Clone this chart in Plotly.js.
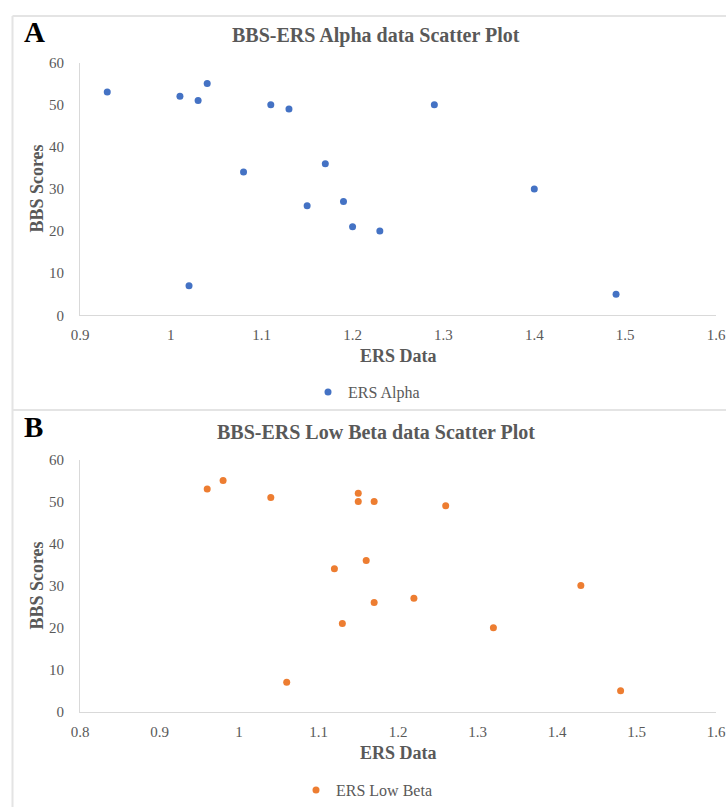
<!DOCTYPE html>
<html>
<head>
<meta charset="utf-8">
<script src="https://cdn.plot.ly/plotly-3.0.1.min.js"></script>
<style>
html, body { margin: 0; padding: 0; background: #ffffff; overflow: hidden; }
#chart { width: 726px; height: 807px; }
</style>
</head>
<body>
<div id="chart"></div>
<script>
// ---- data ----
const alphaX = [0.93, 1.01, 1.02, 1.03, 1.04, 1.08, 1.11, 1.13, 1.15, 1.17, 1.19, 1.20, 1.23, 1.29, 1.40, 1.49];
const alphaY = [53, 52, 7, 51, 55, 34, 50, 49, 26, 36, 27, 21, 20, 50, 30, 5];
const betaX = [0.96, 0.98, 1.04, 1.06, 1.12, 1.13, 1.15, 1.15, 1.16, 1.17, 1.17, 1.22, 1.26, 1.32, 1.43, 1.48];
const betaY = [53, 55, 51, 7, 34, 21, 52, 50, 36, 50, 26, 27, 49, 20, 30, 5];
const xTicksA = [0.9, 1.0, 1.1, 1.2, 1.3, 1.4, 1.5, 1.6];
const xTickTextA = ['0.9', '1', '1.1', '1.2', '1.3', '1.4', '1.5', '1.6'];
const xTicksB = [0.8, 0.9, 1.0, 1.1, 1.2, 1.3, 1.4, 1.5, 1.6];
const xTickTextB = ['0.8', '0.9', '1', '1.1', '1.2', '1.3', '1.4', '1.5', '1.6'];
const yTicks = [0, 10, 20, 30, 40, 50, 60];
const yTickText = ['0', '10', '20', '30', '40', '50', '60'];
const seriesNames = ['ERS Alpha', 'ERS Low Beta'];
const panelTitles = ['BBS-ERS Alpha data Scatter Plot', 'BBS-ERS Low Beta data Scatter Plot'];
const panelLetters = ['A', 'B'];
const xTitle = 'ERS Data';
const yTitle = 'BBS Scores';

// ---- layout helpers (pixel -> paper) ----
const W = 726, H = 807, ML = 80, MR = 10;
const PW = W - ML - MR;
const px = x => (x - ML) / PW;
const py = y => 1 - y / H;

const SERIF = '"Liberation Serif", "Times New Roman", Times, serif';
const GREY = '#595959';
const BLUE = '#4472C4';
const ORANGE = '#ED7D31';
const BORDER = '#e4e4e4';

const traces = [
  { type: 'scatter', mode: 'markers', x: alphaX, y: alphaY, name: seriesNames[0],
    xaxis: 'x', yaxis: 'y', legend: 'legend',
    marker: { color: BLUE, size: 7 }, cliponaxis: false },
  { type: 'scatter', mode: 'markers', x: betaX, y: betaY, name: seriesNames[1],
    xaxis: 'x2', yaxis: 'y2', legend: 'legend2',
    marker: { color: ORANGE, size: 7 }, cliponaxis: false }
];

const axisBase = {
  showgrid: false, zeroline: false, showline: true, linecolor: '#d9d9d9', linewidth: 1,
  ticks: '', tickfont: { family: SERIF, size: 15, color: GREY }, automargin: false, fixedrange: true
};

function ann(text, x, y, opts) {
  return Object.assign({ text: text, x: px(x), y: py(y), xref: 'paper', yref: 'paper',
    showarrow: false, xanchor: 'center', yanchor: 'middle' }, opts || {});
}
function hline(y, x0, x1) {
  return { type: 'line', xref: 'paper', yref: 'paper', x0: px(x0), x1: px(x1), y0: py(y), y1: py(y),
    line: { color: BORDER, width: 2 }, layer: 'below' };
}
function vline(x, y0, y1) {
  return { type: 'line', xref: 'paper', yref: 'paper', x0: px(x), x1: px(x), y0: py(y0), y1: py(y1),
    line: { color: BORDER, width: 2 }, layer: 'below' };
}

const layout = {
  width: W, height: H,
  margin: { l: ML, r: MR, t: 0, b: 0 },
  paper_bgcolor: '#ffffff', plot_bgcolor: '#ffffff',
  showlegend: true,
  xaxis: Object.assign({}, axisBase, { domain: [0, 1], anchor: 'y', range: [0.9, 1.6],
    tickvals: xTicksA, ticktext: xTickTextA, ticklabelstandoff: 6 }),
  yaxis: Object.assign({}, axisBase, { domain: [py(317.7), py(63)], anchor: 'x', range: [0, 60],
    tickvals: yTicks, ticktext: yTickText, ticklabelstandoff: 12 }),
  xaxis2: Object.assign({}, axisBase, { domain: [0, 1], anchor: 'y2', range: [0.8, 1.6],
    tickvals: xTicksB, ticktext: xTickTextB, ticklabelstandoff: 6 }),
  yaxis2: Object.assign({}, axisBase, { domain: [py(717), py(463)], anchor: 'x2', range: [0, 60],
    tickvals: yTicks, ticktext: yTickText, ticklabelstandoff: 12 }),
  legend: { x: px(308), y: py(395), xanchor: 'left', yanchor: 'middle', orientation: 'h',
    font: { family: SERIF, size: 16, color: GREY }, bgcolor: 'rgba(0,0,0,0)', itemwidth: 30 },
  legend2: { x: px(296), y: py(796), xanchor: 'left', yanchor: 'middle', orientation: 'h',
    font: { family: SERIF, size: 16, color: GREY }, bgcolor: 'rgba(0,0,0,0)', itemwidth: 30 },
  shapes: [
    hline(16, 12.5, 800),
    vline(12.5, 16, 413),
    hline(413, 12.5, 800),
    vline(12.5, 413, 850)
  ],
  annotations: [
    ann(panelLetters[0], 34, 32, { font: { family: SERIF, size: 29, color: '#000000', weight: 'bold' } }),
    ann(panelLetters[1], 33, 430, { font: { family: SERIF, size: 29, color: '#000000', weight: 'bold' } }),
    ann(panelTitles[0], 376, 36, { font: { family: SERIF, size: 20, color: GREY, weight: 'bold' } }),
    ann(panelTitles[1], 376, 435, { font: { family: SERIF, size: 20, color: GREY, weight: 'bold' } }),
    ann(xTitle, 398, 359, { font: { family: SERIF, size: 18, color: GREY, weight: 'bold' } }),
    ann(xTitle, 398, 759, { font: { family: SERIF, size: 18, color: GREY, weight: 'bold' } }),
    ann(yTitle, 37, 190, { textangle: -90, font: { family: SERIF, size: 18, color: GREY, weight: 'bold' } }),
    ann(yTitle, 37, 590, { textangle: -90, font: { family: SERIF, size: 18, color: GREY, weight: 'bold' } })
  ]
};

Plotly.newPlot('chart', traces, layout, { displayModeBar: false, staticPlot: true });
</script>
</body>
</html>
